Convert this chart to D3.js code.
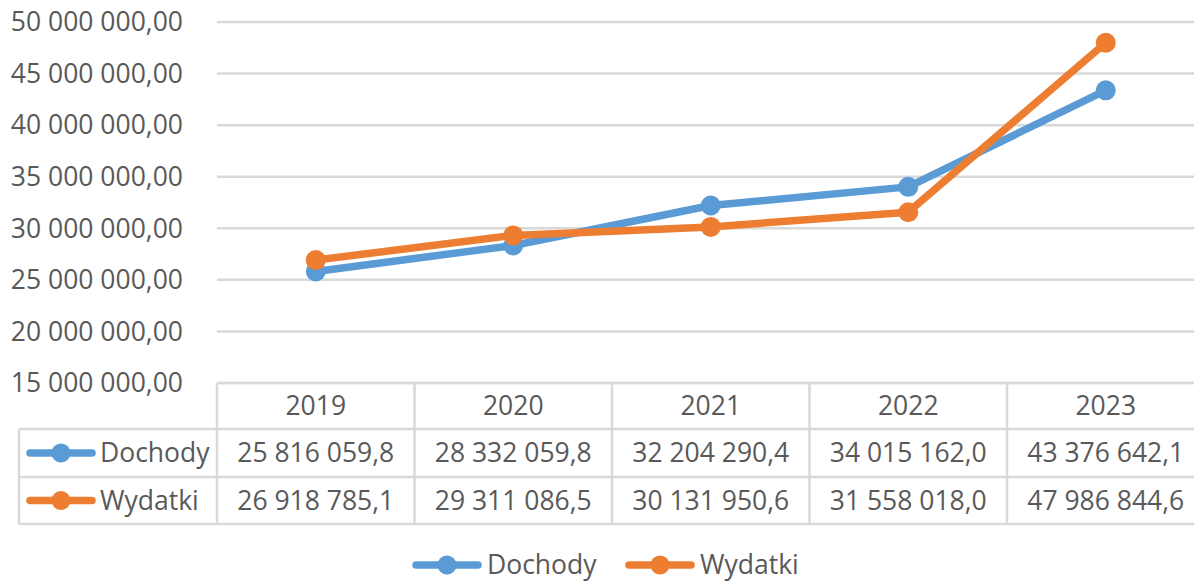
<!DOCTYPE html>
<html>
<head>
<meta charset="utf-8">
<script src="https://cdn.jsdelivr.net/npm/d3@7"></script>
<style>
  html, body { margin: 0; padding: 0; background: #fff; overflow: hidden; }
  svg { display: block; font-family: "Open Sans", sans-serif; }
</style>
</head>
<body>
<svg id="chart" width="1194" height="583"></svg>
<script>
const years = ['2019', '2020', '2021', '2022', '2023'];
const dochody = [25816059.8, 28332059.8, 32204290.4, 34015162.0, 43376642.1];
const wydatki = [26918785.1, 29311086.5, 30131950.6, 31558018.0, 47986844.6];
const yTicks = [15000000, 20000000, 25000000, 30000000, 35000000, 40000000, 45000000, 50000000];

const series = [
  {name: 'Dochody', values: dochody, color: '#5B9BD5'},
  {name: 'Wydatki', values: wydatki, color: '#ED7D31'}
];

const svg = d3.select('#chart'),
    textColor = '#595959',
    gridColor = '#D9D9D9',
    fontSize = 26.5,
    plotLeft = 217,
    plotRight = 1204.5,
    plotTop = 22,
    plotBottom = 383,
    tableLeft = 19,
    rowH = [plotBottom, 429, 477, 524];

const pl = d3.formatLocale({decimal: ',', thousands: '\u00a0', grouping: [3], currency: ['', '']});
const fmtAxis = pl.format(',.2f'),
    fmtCell = pl.format(',.1f');

const x = d3.scaleBand()
  .domain(years)
  .range([plotLeft, plotRight]);

const y = d3.scaleLinear()
  .domain([15000000, 50000000])
  .range([plotBottom, plotTop]);

// gridlines
svg.append('g')
  .selectAll('line')
  .data(yTicks)
  .join('line')
    .attr('x1', plotLeft)
    .attr('x2', plotRight)
    .attr('y1', d => y(d))
    .attr('y2', d => y(d))
    .attr('stroke', gridColor)
    .attr('stroke-width', 2.5);

// y labels
svg.append('g')
  .selectAll('text')
  .data(yTicks)
  .join('text')
    .attr('x', 183)
    .attr('y', d => y(d))
    .attr('dy', '0.35em')
    .attr('text-anchor', 'end')
    .attr('fill', textColor)
    .attr('font-size', fontSize)
    .text(d => fmtAxis(d));

// data table
const tbl = svg.append('g')
  .attr('stroke', gridColor)
  .attr('stroke-width', 2.5);

// horizontal lines
tbl.append('line').attr('x1', plotLeft).attr('x2', plotRight).attr('y1', rowH[0]).attr('y2', rowH[0]);
[1, 2, 3].forEach(i => {
  tbl.append('line').attr('x1', tableLeft).attr('x2', plotRight).attr('y1', rowH[i]).attr('y2', rowH[i]);
});
// vertical lines
tbl.append('line').attr('x1', tableLeft).attr('x2', tableLeft).attr('y1', rowH[1]).attr('y2', rowH[3]);
years.forEach(yr => {
  const xx = x(yr);
  tbl.append('line').attr('x1', xx).attr('x2', xx).attr('y1', rowH[0]).attr('y2', rowH[3]);
});
tbl.append('line').attr('x1', plotRight).attr('x2', plotRight).attr('y1', rowH[0]).attr('y2', rowH[3]);

// header
svg.append('g')
  .selectAll('text')
  .data(years)
  .join('text')
    .attr('x', d => x(d) + x.bandwidth() / 2)
    .attr('y', (rowH[0] + rowH[1]) / 2)
    .attr('dy', '0.35em')
    .attr('text-anchor', 'middle')
    .attr('fill', textColor)
    .attr('font-size', fontSize)
    .text(d => d);

const legendKey = (g, cx, cy, color) => {
  g.append('line')
    .attr('x1', cx - 31).attr('x2', cx + 31)
    .attr('y1', cy).attr('y2', cy)
    .attr('stroke', color)
    .attr('stroke-width', 7.5)
    .attr('stroke-linecap', 'round');
  g.append('circle')
    .attr('cx', cx).attr('cy', cy).attr('r', 9.5)
    .attr('fill', color);
};

series.forEach((s, i) => {
  const cy = (rowH[i + 1] + rowH[i + 2]) / 2;
  const row = svg.append('g');
  legendKey(row, 61, cy, s.color);
  row.append('text')
    .attr('x', 100)
    .attr('y', cy)
    .attr('dy', '0.35em')
    .attr('fill', textColor)
    .attr('font-size', fontSize)
    .text(s.name);
  row.selectAll('text.cell')
    .data(s.values)
    .join('text')
      .attr('class', 'cell')
      .attr('x', (d, j) => x(years[j]) + x.bandwidth() / 2)
      .attr('y', cy)
      .attr('dy', '0.35em')
      .attr('text-anchor', 'middle')
      .attr('fill', textColor)
      .attr('font-size', fontSize)
      .text(d => fmtCell(d));
});

// lines
const line = d3.line()
  .x((d, j) => x(years[j]) + x.bandwidth() / 2)
  .y(d => y(d));

series.forEach(s => {
  const g = svg.append('g');
  g.append('path')
    .datum(s.values)
    .attr('fill', 'none')
    .attr('stroke', s.color)
    .attr('stroke-width', 7.5)
    .attr('stroke-linejoin', 'round')
    .attr('stroke-linecap', 'round')
    .attr('d', line);
  g.selectAll('circle')
    .data(s.values)
    .join('circle')
      .attr('cx', (d, j) => x(years[j]) + x.bandwidth() / 2)
      .attr('cy', d => y(d))
      .attr('r', 10)
      .attr('fill', s.color);
});

// bottom legend
const legendX = [447, 660],
    legendY = 565;
series.forEach((s, i) => {
  const g = svg.append('g');
  legendKey(g, legendX[i], legendY, s.color);
  g.append('text')
    .attr('x', legendX[i] + 40)
    .attr('y', legendY)
    .attr('dy', '0.35em')
    .attr('fill', textColor)
    .attr('font-size', fontSize)
    .text(s.name);
});
</script>
</body>
</html>
